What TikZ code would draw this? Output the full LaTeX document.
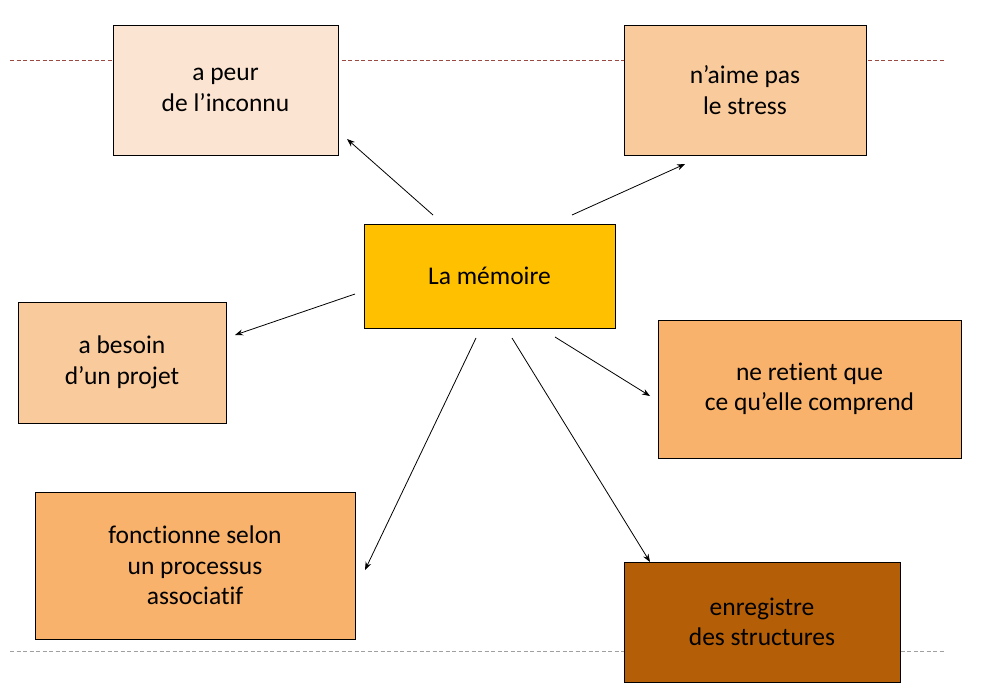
\documentclass[tikz,border=0pt]{standalone}
\usepackage{fontspec}
\setmainfont{Carlito}[Ligatures=NoCommon]
\usetikzlibrary{arrows.meta}
\definecolor{cA}{HTML}{FCE4D2}
\definecolor{cB}{HTML}{F9CA9C}
\definecolor{cC}{HTML}{FFC000}
\definecolor{cD}{HTML}{F8B26C}
\definecolor{cE}{HTML}{B45F08}
\definecolor{topdash}{HTML}{9A4A40}
\definecolor{botdash}{HTML}{A0A0A0}
\begin{document}
\begin{tikzpicture}[x=1pt,y=-1pt,
  box/.style={draw=black, line width=0.8pt, align=center, font=\fontsize{25.5}{30.5}\selectfont, inner sep=0pt},
  conn/.style={line width=0.8pt, -{Stealth[length=8pt,width=6pt]}},
  guide/.style={line width=0.8pt, dash pattern=on 4pt off 2.5pt}]
\useasboundingbox (0,0) rectangle (990,690);
\fill[white] (0,0) rectangle (990,690);
\draw[guide, topdash] (10,60) -- (945,60);
\draw[guide, botdash] (10,651) -- (945,651);
\node[box, fill=cA, minimum width=225pt, minimum height=130pt] (peur) at (225.5,90) {a peur\\de l’inconnu};
\node[box, fill=cB, minimum width=242pt, minimum height=130pt] (stress) at (745,90) {n’aime pas\\le stress};
\node[box, fill=cC, minimum width=251pt, minimum height=104pt] (mem) at (489.5,276) {La mémoire};
\node[box, fill=cB, minimum width=208pt, minimum height=121pt] (projet) at (122,362.5) {a besoin\\d’un projet};
\node[box, fill=cD, minimum width=303pt, minimum height=138pt] (retient) at (809.5,389) {ne retient que\\ce qu’elle comprend};
\node[box, fill=cD, minimum width=320pt, minimum height=147pt] (fonct) at (195,565.5) {fonctionne selon\\un processus\\associatif};
\node[box, fill=cE, minimum width=276pt, minimum height=120pt] (enreg) at (762,622) {enregistre\\des structures};
\coordinate (s1) at (433,215); \coordinate (e1) at (347,139);
\coordinate (s2) at (572,215); \coordinate (e2) at (685,164);
\coordinate (s3) at (355,294); \coordinate (e3) at (235,335);
\coordinate (s4) at (555,337); \coordinate (e4) at (650,396);
\coordinate (s5) at (476,338); \coordinate (e5) at (365,570);
\coordinate (s6) at (512,338); \coordinate (e6) at (650,562);
\draw[conn] (s1) -- (e1);
\draw[conn] (s2) -- (e2);
\draw[conn] (s3) -- (e3);
\draw[conn] (s4) -- (e4);
\draw[conn] (s5) -- (e5);
\draw[conn] (s6) -- (e6);
\end{tikzpicture}
\end{document}
